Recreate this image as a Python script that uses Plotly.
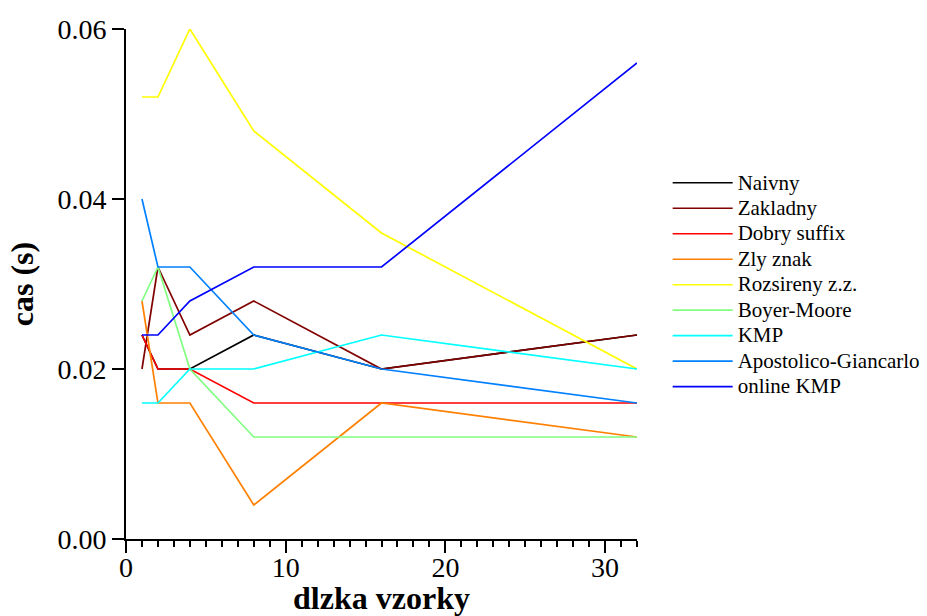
import plotly.graph_objects as go

# Pattern lengths on the x axis
pattern_len = [1, 2, 4, 8, 16, 32]

# Search times (s) per algorithm
naivny = [0.024, 0.020, 0.020, 0.024, 0.020, 0.024]
zakladny = [0.020, 0.032, 0.024, 0.028, 0.020, 0.024]
dobry_suffix = [0.024, 0.020, 0.020, 0.016, 0.016, 0.016]
zly_znak = [0.028, 0.016, 0.016, 0.004, 0.016, 0.012]
rozsireny_zz = [0.052, 0.052, 0.060, 0.048, 0.036, 0.020]
boyer_moore = [0.028, 0.032, 0.020, 0.012, 0.012, 0.012]
kmp = [0.016, 0.016, 0.020, 0.020, 0.024, 0.020]
apostolico = [0.040, 0.032, 0.032, 0.024, 0.020, 0.016]
online_kmp = [0.024, 0.024, 0.028, 0.032, 0.032, 0.056]

series = [
    ("Naivny", naivny, "#000000"),
    ("Zakladny", zakladny, "#800000"),
    ("Dobry suffix", dobry_suffix, "#ff0000"),
    ("Zly znak", zly_znak, "#ff8000"),
    ("Rozsireny z.z.", rozsireny_zz, "#ffff00"),
    ("Boyer-Moore", boyer_moore, "#80ff80"),
    ("KMP", kmp, "#00ffff"),
    ("Apostolico-Giancarlo", apostolico, "#0080ff"),
    ("online KMP", online_kmp, "#0000ff"),
]

FONT = "Liberation Serif"

fig = go.Figure()
for name, vals, color in series:
    fig.add_trace(go.Scatter(
        x=pattern_len, y=vals, mode="lines",
        # legend rows stay compact while the label text itself is a bit larger
        name=f'<span style="font-size:21px">{name}</span>',
        line=dict(color=color, width=1.7),
    ))

fig.update_layout(
    width=927, height=616,
    margin=dict(l=126, r=290, t=29, b=77, autoexpand=False),
    paper_bgcolor="white", plot_bgcolor="white",
    font=dict(family=FONT, color="black", size=26),
    legend=dict(
        x=1.06, xanchor="left", y=0.498, yanchor="middle",
        font=dict(family=FONT, size=17.3, color="black"),
        itemwidth=60, tracegroupgap=0, bgcolor="rgba(0,0,0,0)",
    ),
    xaxis=dict(
        range=[0, 32], tickvals=[0, 10, 20, 30],
        showgrid=False, zeroline=False, automargin=False,
        showline=True, linecolor="black", linewidth=2,
        ticks="outside", ticklen=12, tickwidth=2, tickcolor="black",
        ticklabelstandoff=-10,
        minor=dict(dtick=1, ticks="outside", ticklen=6, tickwidth=1.5, tickcolor="black", showgrid=False),
        tickfont=dict(family=FONT, size=28),
        title=dict(text="<b>dlzka vzorky</b>", font=dict(family=FONT, size=32), standoff=33),
    ),
    yaxis=dict(
        range=[0, 0.06], tickvals=[0, 0.02, 0.04, 0.06], tickformat=".2f",
        showgrid=False, zeroline=False, automargin=False,
        showline=True, linecolor="black", linewidth=2,
        ticks="outside", ticklen=12, tickwidth=2, tickcolor="black",
        tickfont=dict(family=FONT, size=28),
        title=dict(text="<b>cas (s)</b>", font=dict(family=FONT, size=32), standoff=14),
    ),
)

fig.write_html("out.html")
